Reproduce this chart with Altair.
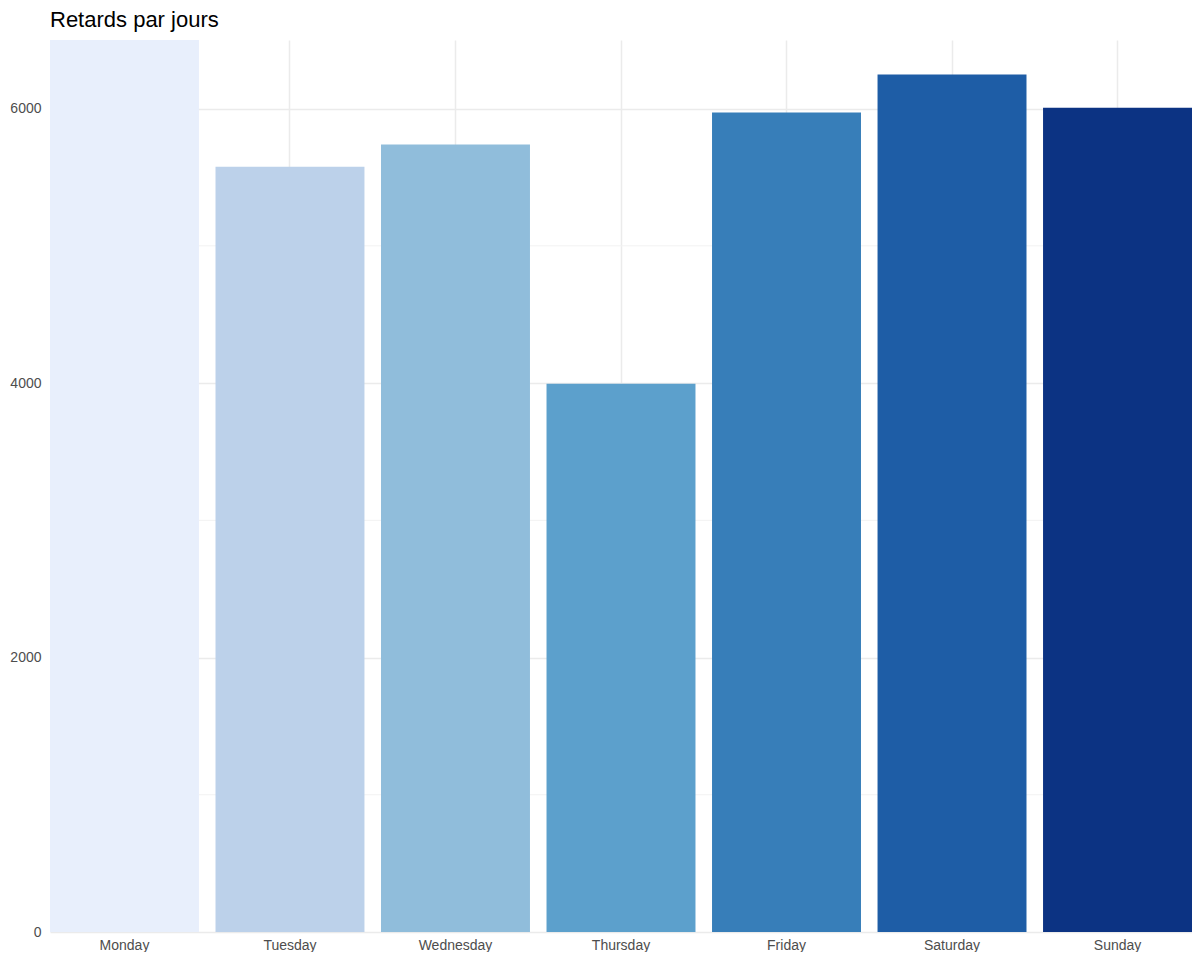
import altair as alt
import pandas as pd

days = ["Monday", "Tuesday", "Wednesday", "Thursday", "Friday", "Saturday", "Sunday"]
delays = [6900, 5577, 5738, 3995, 5971, 6248, 6007]
colors = ["#E8EFFC", "#BCD1EA", "#90BDDB", "#5CA0CC", "#377EB9", "#1E5DA6", "#0C3383"]
minor_ticks = [1000, 3000, 5000]

df = pd.DataFrame({"day": days, "delay": delays})
minor = pd.DataFrame({"v": minor_ticks})

font = "Liberation Sans"

yscale = alt.Scale(domain=[0, 6500], nice=False, zero=True)

bars = alt.Chart(df).mark_bar(clip=True).encode(
    x=alt.X("day:N", sort=days, title=None,
            scale=alt.Scale(paddingInner=0.1, paddingOuter=0),
            axis=alt.Axis(labelAngle=0, domain=False, ticks=False, grid=True,
                          bandPosition=0.5, gridColor="#EBEBEB", gridWidth=1.5,
                          labelColor="#4D4D4D", labelFontSize=14, labelFont=font,
                          labelPadding=6)),
    y=alt.Y("delay:Q", title=None, scale=yscale,
            axis=alt.Axis(values=[0, 2000, 4000, 6000], format="d", domain=False, ticks=False,
                          gridColor="#EBEBEB", gridWidth=1.5, labelColor="#4D4D4D",
                          labelFontSize=14, labelFont=font, labelPadding=9)),
    color=alt.Color("day:N", sort=days, scale=alt.Scale(domain=days, range=colors), legend=None),
)

minor_rules = alt.Chart(minor).mark_rule(color="#F2F2F2", strokeWidth=1).encode(
    y=alt.Y("v:Q", scale=yscale)
)

chart = alt.layer(minor_rules, bars).properties(
    width=1142, height=892,
    background="white",
    title=alt.TitleParams("Retards par jours", anchor="start", frame="group", font=font,
                          fontSize=22, fontWeight="normal", color="#000000", offset=8),
    autosize=alt.AutoSizeParams(type="none"),
    padding={"left": 42, "top": 32, "right": 0, "bottom": 20},
).configure_view(strokeWidth=0, stroke="transparent")

chart.save("out.html", embed_options={"renderer": "svg", "actions": False})
